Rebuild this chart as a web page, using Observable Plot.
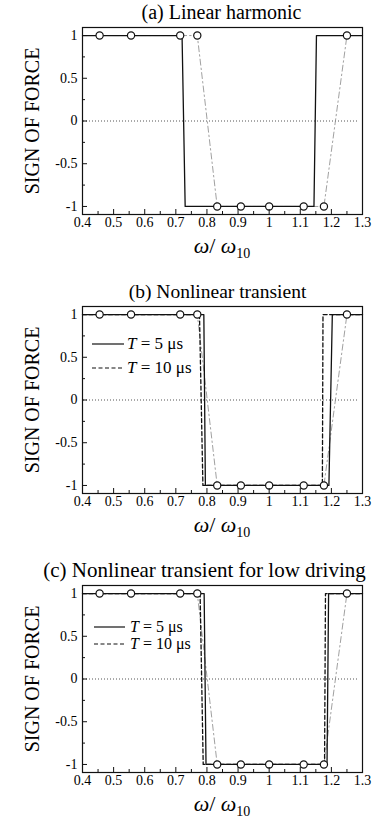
<!DOCTYPE html>
<html><head><meta charset="utf-8">
<script src="https://cdn.jsdelivr.net/npm/d3@7"></script>
<script src="https://cdn.jsdelivr.net/npm/@observablehq/plot@0.6"></script>
<style>
body{margin:0;background:#fff;}
#chart svg{display:block;}
#chart svg, #chart svg text{font-family:'Liberation Serif', 'Times New Roman', serif;}
</style>
</head><body><div id="chart"></div>
<script>
// ---- data ----
const panelTitles = ["(a) Linear harmonic", "(b) Nonlinear transient", "(c) Nonlinear transient for low driving"];
const yAxisLabel = "SIGN OF FORCE";
const xLabelParts = [
  {text: "ω", italic: true, sub: false},
  {text: "/ ", italic: false, sub: false},
  {text: "ω", italic: true, sub: false},
  {text: "10", italic: false, sub: true}
];
const legendSymbols = ["T", "T"];
const legendTexts = [" = 5 μs", " = 10 μs"];

// experimental points (circles), omega/omega10
const expOmega = [0.455, 0.556, 0.714, 0.769, 0.833, 0.909, 1.0, 1.111, 1.176, 1.25];
const expSignA = [1, 1, 1, 1, -1, -1, -1, -1, -1, 1];
const expSignB = [1, 1, 1, 1, -1, -1, -1, -1, -1, 1];
const expSignC = [1, 1, 1, 1, -1, -1, -1, -1, -1, 1];

// step curves
const stepSign = [1, 1, -1, -1, 1, 1];
const linearOmegaA = [0.4, 0.72, 0.73, 1.144, 1.152, 1.3];
const t5OmegaB = [0.4, 0.79, 0.795, 1.192, 1.203, 1.3];
const t10OmegaB = [0.4, 0.776, 0.787, 1.171, 1.173, 1.3];
const t5OmegaC = [0.4, 0.791, 0.797, 1.186, 1.191, 1.3];
const t10OmegaC = [0.4, 0.778, 0.788, 1.178, 1.181, 1.3];

// ticks
const xMajorTicks = [0.4, 0.5, 0.6, 0.7, 0.8, 0.9, 1.0, 1.1, 1.2, 1.3];
const xTickLabels = ["0.4", "0.5", "0.6", "0.7", "0.8", "0.9", "1", "1.1", "1.2", "1.3"];
const xMinorTicks = [0.45, 0.55, 0.65, 0.75, 0.85, 0.95, 1.05, 1.15, 1.25];
const yMajorTicks = [-1, -0.5, 0, 0.5, 1];
const yTickLabels = ["-1", "-0.5", "0", "0.5", "1"];
const yMinorTicks = [-0.75, -0.25, 0.25, 0.75];

// ---- rendering ----
const FONT = "'Liberation Serif', 'Times New Roman', serif";
const INK = "#111";

function buildPanel(cfg) {
  const W = 382, H = cfg.height;
  const mL = 82, mR = 20, mT = 27, frameBottom = 214;
  const expData = expOmega.map((x, i) => ({x, y: cfg.exp[i]}));
  const marks = [
    Plot.ruleY([0], {stroke: "#555", strokeWidth: 1, strokeDasharray: "1,2", insetLeft: 1, insetRight: 4}),
    Plot.line(expData, {x: "x", y: "y", stroke: "#888", strokeWidth: 0.8, strokeDasharray: "6,3,1.5,3"}),
    ...cfg.lines.map(l => Plot.line(l.omega.map((x, i) => ({x, y: l.sign[i]})),
      {x: "x", y: "y", stroke: INK, strokeWidth: 1.3, strokeDasharray: l.dash || null})),
    Plot.dot(expData, {x: "x", y: "y", r: 3.6, stroke: INK, strokeWidth: 1.2, fill: "white"}),
    Plot.frame({stroke: INK, strokeWidth: 1.2}),
    Plot.axisX(xMajorTicks, {anchor: "bottom", label: null, tickSize: -5, tickFormat: () => "", stroke: INK}),
    Plot.axisX(xMinorTicks, {anchor: "bottom", label: null, tickSize: -3, tickFormat: () => "", stroke: INK}),
    Plot.axisX(xMajorTicks, {anchor: "bottom", label: null, tickSize: 0, tickPadding: 3, fontSize: 14, fill: "black",
      fontFamily: FONT, tickFormat: d => xTickLabels[xMajorTicks.indexOf(d)]}),
    Plot.axisY(yMajorTicks, {anchor: "left", label: null, tickSize: -5, tickFormat: () => "", stroke: INK}),
    Plot.axisY(yMinorTicks, {anchor: "left", label: null, tickSize: -3, tickFormat: () => "", stroke: INK}),
    Plot.axisY(yMajorTicks, {anchor: "left", label: null, tickSize: 0, tickPadding: 5, fontSize: 14, fill: "black",
      fontFamily: FONT, tickFormat: d => yTickLabels[yMajorTicks.indexOf(d)]}),
    Plot.text([cfg.title], {text: d => d, frameAnchor: "top", dx: cfg.titleDx, dy: -9, lineAnchor: "bottom",
      textAnchor: "middle", fontSize: cfg.titleSize, fontFamily: FONT, fill: "black"}),
    Plot.text([yAxisLabel], {text: d => d, frameAnchor: "left", dx: -50, rotate: -90, lineAnchor: "middle",
      textAnchor: "middle", fontSize: 20, fontFamily: FONT, fill: "black"})
  ];
  const svgEl = Plot.plot({
    width: W, height: H,
    marginLeft: mL, marginRight: mR, marginTop: mT, marginBottom: H - frameBottom,
    x: {domain: [0.4, 1.3], label: null},
    y: {domain: [-1.094, 1.094], label: null},
    style: "font-family: 'Liberation Serif', 'Times New Roman', serif; font-size: 14px; background: white; color: black; overflow: visible;",
    marks
  });
  const svg = d3.select(svgEl).attr("font-family", FONT);
  const xs = svgEl.scale("x");
  const cx = (xs.range[0] + xs.range[1]) / 2;
  // x-axis label with italic omega and subscript
  const xl = svg.append("text")
    .attr("x", cx).attr("y", frameBottom + 39)
    .attr("text-anchor", "middle")
    .attr("font-family", FONT).attr("font-size", 22).attr("fill", "black");
  xLabelParts.forEach(p => {
    const ts = xl.append("tspan").text(p.text);
    if (p.italic) ts.attr("font-style", "italic");
    if (p.sub) ts.attr("font-size", 14).attr("dy", 5);
  });
  // legend
  if (cfg.legend) {
    const lg = cfg.legend;
    const dashes = [null, "4,2.5"];
    legendTexts.forEach((t, i) => {
      const y = mT + lg.y[i];
      svg.append("line")
        .attr("x1", mL + lg.x0).attr("x2", mL + lg.x1)
        .attr("y1", y).attr("y2", y)
        .attr("stroke", INK).attr("stroke-width", 1.2)
        .attr("stroke-dasharray", dashes[i]);
      const tx = svg.append("text")
        .attr("x", mL + lg.tx).attr("y", y + 5)
        .attr("text-anchor", "start")
        .attr("font-family", FONT).attr("font-size", lg.fs).attr("fill", "black");
      tx.append("tspan").attr("font-style", "italic").text(legendSymbols[i]);
      tx.append("tspan").text(t);
    });
  }
  return svgEl;
}

const panels = [
  {title: panelTitles[0], titleDx: -1, titleSize: 20, height: 279, exp: expSignA,
   lines: [{omega: linearOmegaA, sign: stepSign}], legend: null},
  {title: panelTitles[1], titleDx: -5, titleSize: 19.5, height: 279, exp: expSignB,
   lines: [{omega: t10OmegaB, sign: stepSign, dash: "4,2.5"}, {omega: t5OmegaB, sign: stepSign}],
   legend: {x0: 10, x1: 42, tx: 45, y: [38, 62], fs: 17}},
  {title: panelTitles[2], titleDx: -18, titleSize: 21, height: 277, exp: expSignC,
   lines: [{omega: t10OmegaC, sign: stepSign, dash: "4,2.5"}, {omega: t5OmegaC, sign: stepSign}],
   legend: {x0: 12, x1: 43, tx: 48, y: [42, 59], fs: 16}}
];

const root = document.getElementById("chart");
panels.forEach(p => root.appendChild(buildPanel(p)));
</script>
</body></html>
